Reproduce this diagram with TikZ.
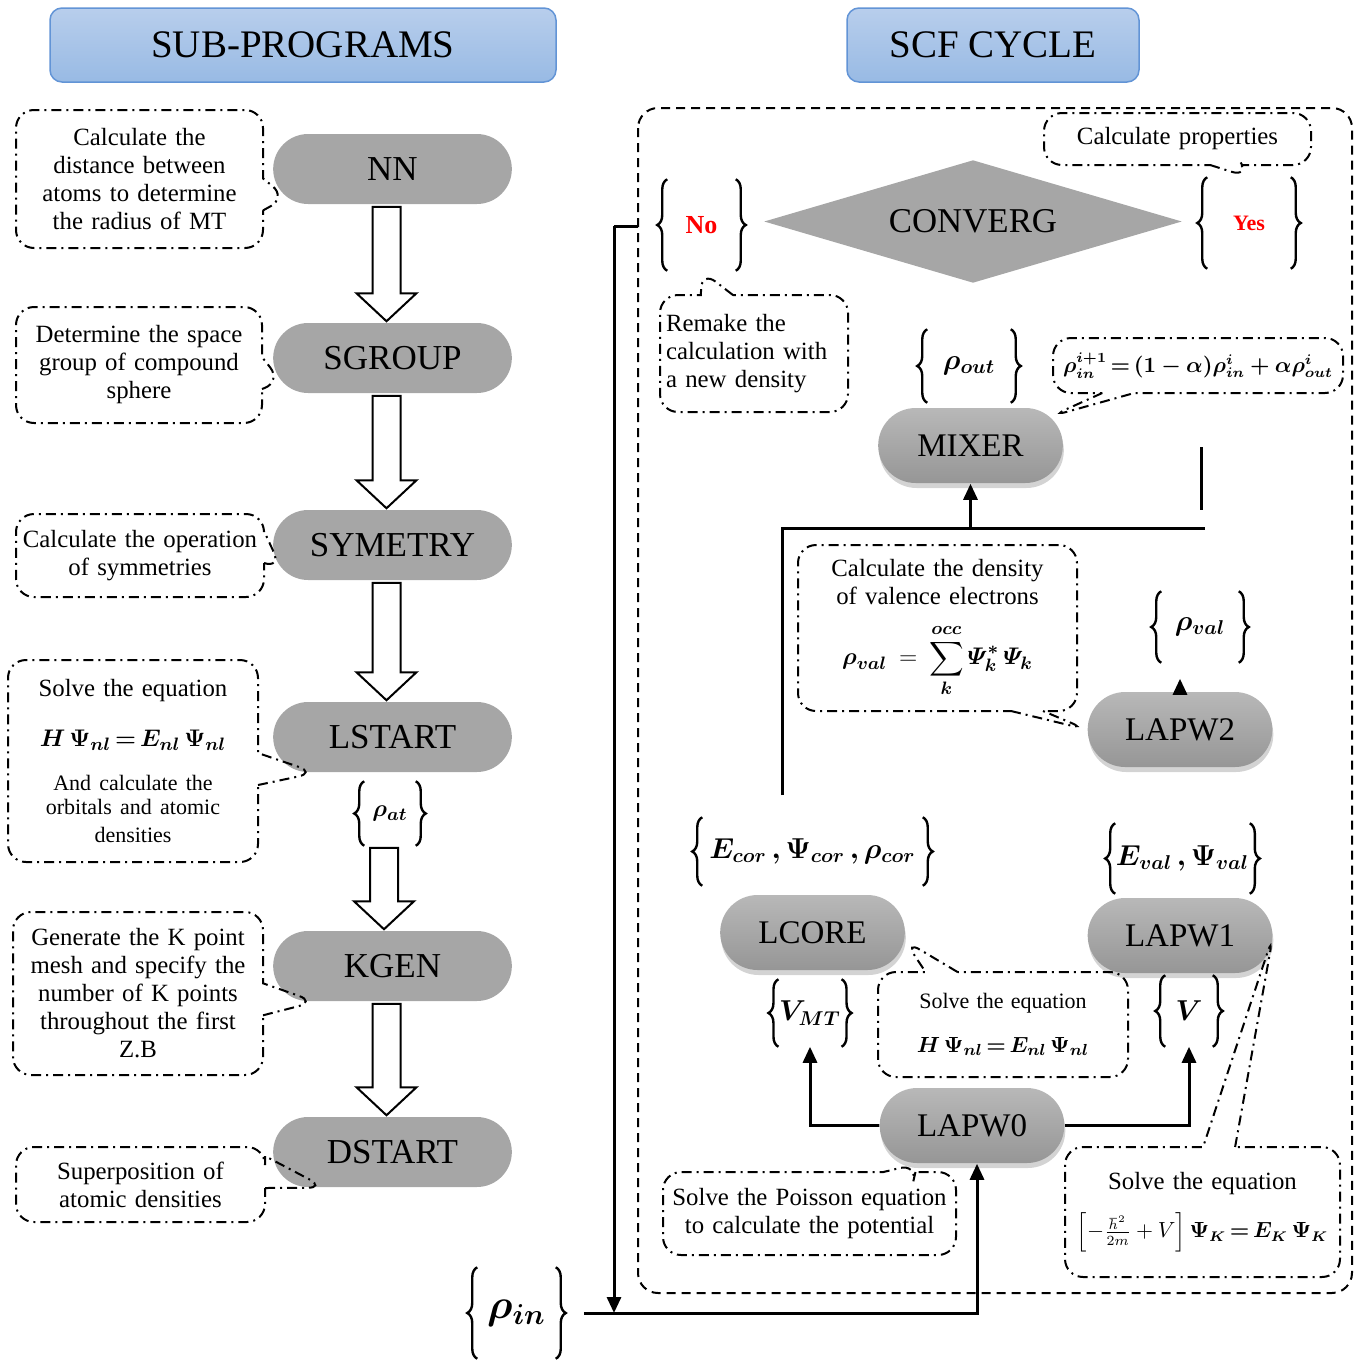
\documentclass[tikz,border=0pt]{standalone}
\usepackage{fontspec}
\setmainfont{Liberation Serif}
\usepackage{amsmath,bm}
\usetikzlibrary{shapes.misc,shapes.geometric,shapes.callouts,decorations.pathreplacing,arrows.meta,calc,shadows}

\definecolor{pillgray}{RGB}{166,166,166}
\definecolor{pilltop}{RGB}{184,184,184}
\definecolor{pillbot}{RGB}{150,150,150}
\definecolor{headtop}{RGB}{184,206,236}
\definecolor{headbot}{RGB}{152,186,228}
\definecolor{headline}{RGB}{98,148,214}

\newcommand{\notefont}{\fontsize{12.4}{14}\selectfont}
\newcommand{\smallnotefont}{\fontsize{11}{12}\selectfont}
\newcommand{\formfont}{\fontsize{10.5}{12}\selectfont}
\newcommand{\eq}{\,\mathord{=}\,}
\newcommand{\blockarrow}[2]{%
  \draw[fill=white,line width=1pt] let \p1=(#1.south), \p2=(#2.north) in
    (\x1-10pt,\y1+1pt) -- (\x1+4pt,\y1+1pt) -- (\x1+4pt,\y2-14.5pt) -- (\x1+12pt,\y2-14.5pt)
    -- (\x1-3pt,\y2-0.5pt) -- (\x1-18pt,\y2-14.5pt) -- (\x1-10pt,\y2-14.5pt) -- cycle;}

\tikzset{every picture/.style={line width=0.75pt}}

\begin{document}
\begin{tikzpicture}[x=0.5pt,y=0.5pt,yscale=-1,xscale=1,
  header/.style={draw=headline,top color=headtop,bottom color=headbot,rounded corners=6pt,minimum height=37pt,font=\fontsize{19.5}{22}\selectfont},
  pill/.style={rounded rectangle,fill=pillgray,minimum width=126pt,minimum height=35pt,font=\fontsize{17.5}{20}\selectfont},
  scfpill/.style={rounded rectangle,top color=pilltop,bottom color=pillbot,minimum width=99pt,minimum height=37.5pt,font=\fontsize{16.5}{20}\selectfont,
    drop shadow={opacity=0.35,shadow xshift=0.5pt,shadow yshift=-2.5pt}},
  note/.style={rectangle callout,draw,line width=1pt,dash pattern=on 5pt off 2.5pt on 1pt off 2.5pt,rounded corners=9pt,
    align=center,inner sep=3pt,callout pointer width=16pt,font=\notefont},
  setbr/.style={inner sep=0pt},
  curly/.style={decorate,decoration={brace,amplitude=5pt},line width=1.2pt},
  conn/.style={line width=1.5pt},
  tip/.style={-{Triangle[length=8pt,width=7pt]}}]
\useasboundingbox (0,0) rectangle (1359,1360);

% Headers
\node[header,minimum width=253pt] (hsub) at (303,45) {SUB-PROGRAMS};
\node[header,minimum width=146pt] (hscf) at (993,45) {SCF CYCLE};

% Sub-programs
\node[pill] (NN) at (392.5,169) {NN};
\node[pill] (SGROUP) at (392.5,358) {SGROUP};
\node[pill] (SYMETRY) at (392.5,545) {SYMETRY};
\node[pill] (LSTART) at (392.5,737) {LSTART};
\node[pill] (KGEN) at (392.5,966) {KGEN};
\node[pill] (DSTART) at (392.5,1152) {DSTART};
\node[setbr,minimum width=25pt,minimum height=31.5pt,font=\fontsize{13}{15}\selectfont] (rhoat) at (390,813.5) {$\bm{\rho_{at}}$};

\blockarrow{NN}{SGROUP}
\blockarrow{SGROUP}{SYMETRY}
\blockarrow{SYMETRY}{LSTART}
\blockarrow{rhoat}{KGEN}
\blockarrow{KGEN}{DSTART}

% Notes of the sub-programs
\node[note,text width=117.5pt,minimum height=69pt,callout absolute pointer={(NN.195)}] (c1) at (139.5,179)
  {Calculate the\\distance between\\atoms to determine\\the radius of MT};
\node[note,text width=117pt,minimum height=58pt,callout absolute pointer={(SGROUP.192)}] (c2) at (139,365)
  {Determine the space\\group of compound\\sphere};
\node[note,text width=118pt,minimum height=41.5pt,callout absolute pointer={(SYMETRY.192)}] (c3) at (140,555.5)
  {Calculate the operation\\of symmetries};
\node[note,text width=119pt,minimum height=101pt,callout absolute pointer={(LSTART.205)}] (c4) at (133,761)
  {Solve the equation\\[11pt] $\bm{H\,\Psi_{nl} \eq E_{nl}\,\Psi_{nl}}$\\[10pt] \smallnotefont And calculate the\\orbitals and atomic\\densities};
\node[note,text width=119pt,minimum height=81.5pt,callout absolute pointer={(KGEN.205)}] (c5) at (138,993.5)
  {Generate the K point\\mesh and specify the\\number of K points\\throughout the first\\Z.B};
\node[note,text width=118.5pt,minimum height=37.5pt,callout absolute pointer={(DSTART.208)}] (c6) at (140.5,1184.5)
  {Superposition of\\atomic densities};

% SCF cycle frame
\draw[line width=1pt,dash pattern=on 4.5pt off 3pt,rounded corners=10pt] (638,108) rectangle (1352,1293);

% SCF cycle
\node[diamond,fill=pillgray,aspect=3.4,inner sep=0pt,minimum width=209pt,minimum height=61.5pt,font=\fontsize{17.4}{20}\selectfont] (converg) at (973,221.5) {CONVERG};
\node[setbr,minimum width=33.5pt,minimum height=45pt,font=\fontsize{13}{15}\selectfont\bfseries,text=red] (brNo) at (701.5,225) {No};
\node[setbr,minimum width=41pt,minimum height=45pt,font=\fontsize{11}{13}\selectfont\bfseries,text=red] (brYes) at (1249,223) {Yes};
\node[setbr,minimum width=41pt,minimum height=36pt,font=\fontsize{14}{16}\selectfont] (rhoout) at (969,366) {$\bm{\rho_{out}}$};
\node[scfpill] (mixer) at (970.5,445.5) {MIXER};
\node[setbr,minimum width=38pt,minimum height=35pt,font=\fontsize{14}{16}\selectfont] (rhoval) at (1200,627) {$\bm{\rho_{val}}$};
\node[scfpill] (lapw2) at (1180,729.5) {LAPW2};
\node[setbr,minimum width=109.5pt,minimum height=33.5pt,font=\fontsize{14}{16}\selectfont] (ecor) at (812.5,851.5) {$\bm{E_{cor}\,,\Psi_{cor}\,,\rho_{cor}}$};
\node[setbr,minimum width=65.5pt,minimum height=34.5pt,font=\fontsize{14}{16}\selectfont] (evalb) at (1182.5,858.5) {$\bm{E_{val}\,,\Psi_{val}}$};
\node[scfpill] (lcore) at (812.5,932.5) {LCORE};
\node[scfpill] (lapw1) at (1180,935.5) {LAPW1};
\node[setbr,minimum width=28pt,minimum height=33pt,font=\fontsize{14}{16}\selectfont] (VMT) at (810,1013) {$\bm{V_{MT}}$};
\node[setbr,minimum width=23pt,minimum height=35pt,font=\fontsize{14}{16}\selectfont] (Vb) at (1189,1011) {$\bm{V}$};
\node[scfpill] (lapw0) at (972,1125.5) {LAPW0};
\node[setbr,minimum width=38.5pt,minimum height=45pt,font=\fontsize{21}{24}\selectfont] (rhoin) at (516.5,1313) {$\bm{\rho_{in}}$};

% Braces
\foreach \b in {rhoat,brNo,brYes,rhoout,rhoval,ecor,evalb,VMT,Vb,rhoin}{
  \draw[curly] (\b.south west) -- (\b.north west);
  \draw[curly] (\b.north east) -- (\b.south east);
}

% Notes of the SCF cycle
\node[note,text width=127.5pt,minimum height=26pt,callout absolute pointer={(brYes.north)}] (c7) at (1177.5,139)
  {Calculate properties};
\node[note,align=left,text width=88pt,minimum height=58.5pt,callout absolute pointer={(brNo.south)}] (c8) at (754,353.5)
  {Remake the\\calculation with\\a new density};
\node[note,text width=139pt,minimum height=27.5pt,font=\formfont,callout absolute pointer={(mixer.20)}] (c9) at (1198,365.5)
  {$\bm{\rho_{in}^{i+1} \eq (1-\alpha)\rho_{in}^{i} + \alpha\rho_{out}^{i}}$};
\node[note,text width=133.5pt,minimum height=83pt,callout absolute pointer={(lapw2.west)}] (c10) at (937.5,628)
  {Calculate the density\\of valence electrons\\[9pt] $\displaystyle\bm{\rho_{val}} = \sum_{\bm{k}}^{\bm{occ}} \bm{\varPsi^{*}_{k}\,\varPsi_{k}}$};
\node[note,text width=119pt,minimum height=52.5pt,font=\smallnotefont,callout absolute pointer={(lcore.-5)}] (c11) at (1003,1024.5)
  {Solve the equation\\[10pt] $\bm{H\,\Psi_{nl} \eq E_{nl}\,\Psi_{nl}}$};
\node[note,text width=140.5pt,minimum height=41.5pt,callout absolute pointer={(lapw0.215)}] (c12) at (809.5,1213.5)
  {Solve the Poisson equation\\to calculate the potential};
\node[note,text width=131.5pt,minimum height=65pt,callout absolute pointer={(lapw1.east)}] (c13) at (1202.5,1212)
  {Solve the equation\\[8pt] {\formfont$\left[-\frac{\hbar^{2}}{2m}+V\right]\bm{\Psi_{K} \eq E_{K}\,\Psi_{K}}$}};

% Connectors
\coordinate (noout) at (638,226);
\coordinate (nobend) at (614,226);
\coordinate (jL) at (782,795);
\coordinate (jC) at (782,528);
\coordinate (jR) at (1205,528);
\coordinate (jT) at (1201,447);
\coordinate (jB) at (1201,510);
\draw[conn] (noout) -- (nobend);
\draw[conn,tip] (nobend) -- (nobend |- rhoin);
\draw[conn,tip] ([xshift=14pt]rhoin.east) -| ([xshift=2.5pt]lapw0.south);
\draw[conn,tip] (lapw0.west) -| (VMT.south);
\draw[conn,tip] (lapw0.east) -| (Vb.south);
\draw[conn] (jL) -- (jC) -- (jR);
\draw[conn,tip] (jC -| mixer.south) -- (mixer.south);
\draw[conn] (jT) -- (jB);
\draw[conn,tip,shorten >=8pt] (lapw2.north) -- (lapw2.north |- rhoval.south);

\end{tikzpicture}
\end{document}
